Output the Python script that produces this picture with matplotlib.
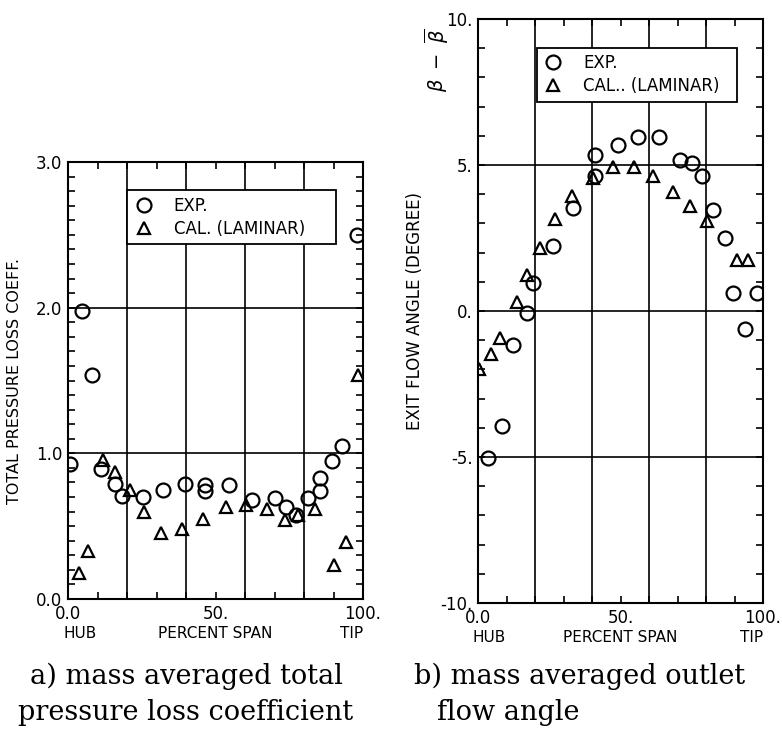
import matplotlib
matplotlib.use('Agg')
import matplotlib.pyplot as plt
from matplotlib.ticker import MultipleLocator, FixedLocator, FixedFormatter
import matplotlib.transforms as mtrans

# a) total pressure loss coefficient
loss_exp_x = [0.7, 4.6, 8.0, 11.1, 15.9, 18.2, 25.5, 32.3, 39.7, 46.4, 46.4, 54.7,
              62.3, 70.2, 74.0, 77.3, 81.5, 85.3, 85.3, 89.5, 93.0, 97.9]
loss_exp_y = [0.93, 1.98, 1.54, 0.89, 0.79, 0.71, 0.70, 0.75, 0.79, 0.78, 0.74, 0.78,
              0.68, 0.69, 0.63, 0.58, 0.69, 0.83, 0.74, 0.95, 1.05, 2.50]
loss_cal_x = [3.7, 6.9, 12.0, 15.9, 21.0, 25.9, 31.5, 38.5, 45.9, 53.6, 60.3, 67.3,
              73.6, 78.1, 83.7, 90.0, 94.3, 98.4]
loss_cal_y = [0.18, 0.33, 0.955, 0.87, 0.75, 0.60, 0.45, 0.48, 0.55, 0.63, 0.645, 0.62,
              0.54, 0.575, 0.62, 0.23, 0.39, 1.54]

# b) outlet flow angle deviation
ang_exp_x = [3.6, 8.3, 12.4, 17.1, 19.4, 26.4, 33.4, 41.1, 41.1, 49.2, 56.3, 63.6,
             70.9, 75.0, 78.5, 82.6, 86.7, 89.6, 93.7, 97.8]
ang_exp_y = [-5.02, -3.93, -1.17, -0.08, 0.95, 2.22, 3.54, 5.34, 4.63, 5.67, 5.95, 5.95,
             5.17, 5.06, 4.63, 3.46, 2.51, 0.63, -0.63, 0.63]
ang_cal_x = [0.3, 4.5, 7.7, 13.6, 17.1, 21.8, 27.0, 32.9, 40.5, 47.5, 54.7, 61.5,
             68.5, 74.4, 80.2, 90.8, 94.9]
ang_cal_y = [-1.98, -1.46, -0.91, 0.32, 1.24, 2.16, 3.14, 3.94, 4.57, 4.92, 4.92, 4.63,
             4.06, 3.60, 3.08, 1.76, 1.76]

grid_x = [20, 40, 60, 80]
narrow = ['Liberation Sans Narrow', 'DejaVu Sans']
serif = ['DejaVu Serif']

fig = plt.figure(figsize=(7.82, 7.38), dpi=100)
axL = fig.add_axes([68/782, 139/738, 295/782, 437/738])
axR = fig.add_axes([478/782, 135/738, 285/782, 584/738])


def style(ax, ylim, ymajor, ylabels, yminor, ygrid):
    ax.set_xlim(0, 100)
    ax.set_ylim(*ylim)
    ax.xaxis.set_major_locator(FixedLocator([0, 50, 100]))
    ax.xaxis.set_major_formatter(FixedFormatter(['0.0', '50.', '100.']))
    ax.xaxis.set_minor_locator(MultipleLocator(10))
    ax.yaxis.set_major_locator(FixedLocator(ymajor))
    ax.yaxis.set_major_formatter(FixedFormatter(ylabels))
    ax.yaxis.set_minor_locator(MultipleLocator(yminor))
    ax.tick_params(which='both', direction='in', top=True, right=True,
                   length=5, width=1.2, labelsize=12, pad=4)
    for lab in ax.get_xticklabels() + ax.get_yticklabels():
        lab.set_family(narrow)
    for s in ax.spines.values():
        s.set_linewidth(1.5)
    for gx in grid_x:
        ax.axvline(gx, color='black', lw=1.2, zorder=1)
    for gy in ygrid:
        ax.axhline(gy, color='black', lw=1.2, zorder=1)
    # HUB / PERCENT SPAN / TIP row under the tick labels
    tr = mtrans.blended_transform_factory(ax.transData, ax.transAxes) + \
        mtrans.ScaledTranslation(0, -0.35, fig.dpi_scale_trans)
    ax.text(4, 0, 'HUB', transform=tr, ha='center', va='center', fontsize=11,
            family=narrow)
    ax.text(96, 0, 'TIP', transform=tr, ha='center', va='center', fontsize=11,
            family=narrow)
    ax.text(50, 0, 'PERCENT SPAN', transform=tr, ha='center', va='center',
            fontsize=11, family=narrow)


style(axL, (0, 3), [0, 1, 2, 3], ['0.0', '1.0', '2.0', '3.0'], 0.1, [1, 2])
style(axR, (-10, 10), [-10, -5, 0, 5, 10], ['-10.', '-5.', '0.', '5.', '10.'], 1, [-5, 0, 5])

mk = dict(linestyle='none', markerfacecolor='none', markeredgecolor='black',
          markeredgewidth=1.6, zorder=3)
axL.plot(loss_exp_x, loss_exp_y, marker='o', markersize=10, label='EXP.', **mk)
axL.plot(loss_cal_x, loss_cal_y, marker='^', markersize=8, label='CAL. (LAMINAR)', **mk)
axR.plot(ang_exp_x, ang_exp_y, marker='o', markersize=10, label='EXP.', **mk)
axR.plot(ang_cal_x, ang_cal_y, marker='^', markersize=8, label='CAL.. (LAMINAR)', **mk)

for ax, box in ((axL, (0.2, 0.803, 0.71, 0.133)), (axR, (0.206, 0.851, 0.704, 0.10))):
    leg = ax.legend(loc='upper left', bbox_to_anchor=box, mode='expand',
                    frameon=True, fancybox=False, framealpha=1, edgecolor='black',
                    borderaxespad=0, prop={'family': narrow, 'size': 12},
                    handletextpad=1.2, labelspacing=0.3, handlelength=1.2)
    leg.get_frame().set_linewidth(1.3)
    leg.set_zorder(5)

axL.set_ylabel('TOTAL PRESSURE LOSS COEFF.', fontsize=11.5, labelpad=10, family=narrow)
axR.set_ylabel('EXIT FLOW ANGLE (DEGREE)', fontsize=12, labelpad=12, family=narrow)
axR.text(-0.145, 0.93, r'$\beta\ -\ \overline{\beta}$', transform=axR.transAxes,
         rotation=90, ha='center', va='center', fontsize=14)

cap = dict(fontsize=19.5, family=serif, va='center')
fig.text(186/782, 1 - 676/738, 'a) mass averaged total', ha='center', **cap)
fig.text(186/782, 1 - 713/738, 'pressure loss coefficient', ha='center', **cap)
fig.text(414/782, 1 - 676/738, 'b) mass averaged outlet', ha='left', **cap)
fig.text(437/782, 1 - 713/738, 'flow angle', ha='left', **cap)

fig.savefig('out.png', dpi=100)
